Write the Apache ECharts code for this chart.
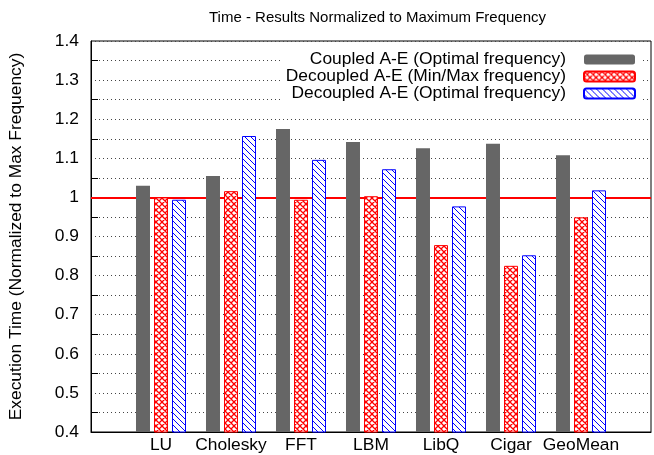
<!DOCTYPE html>
<html>
<head>
    <meta charset="utf-8">
    <title>Time - Results Normalized to Maximum Frequency</title>
    <script src="https://cdn.jsdelivr.net/npm/echarts@6/dist/echarts.min.js"></script>
    <style>
        html, body { margin: 0; padding: 0; background: #fff; }
        #chartContainer { width: 654px; height: 455px; }
    </style>
</head>
<body>
    <div id="chartContainer"></div>

    <script>
        // data
        const categories = ['LU', 'Cholesky', 'FFT', 'LBM', 'LibQ', 'Cigar', 'GeoMean'];
        const coupledOptimal = [1.030, 1.055, 1.175, 1.142, 1.126, 1.137, 1.108];
        const decoupledMinMax = [1.000, 1.016, 0.994, 1.003, 0.878, 0.825, 0.949];
        const decoupledOptimal = [0.994, 1.157, 1.096, 1.072, 0.977, 0.852, 1.018];
        const seriesNames = [
            'Coupled A-E (Optimal frequency)',
            'Decoupled A-E (Min/Max frequency)',
            'Decoupled A-E (Optimal frequency)'
        ];
        const referenceLevel = 1.0;

        const FONT = 'Liberation Sans, Arial, sans-serif';
        const FS = 17.4;

        // hatch fills like gnuplot patterns
        function makePattern(kind, color) {
            const c = document.createElement('canvas');
            c.width = 6; c.height = 6;
            const ctx = c.getContext('2d');
            ctx.fillStyle = '#fff';
            ctx.fillRect(0, 0, 6, 6);
            ctx.strokeStyle = color;
            ctx.lineWidth = kind === 'cross' ? 1.3 : 1;
            ctx.beginPath();
            // "\" direction
            ctx.moveTo(-1, -1); ctx.lineTo(7, 7);
            ctx.moveTo(-1, 5); ctx.lineTo(1, 7);
            ctx.moveTo(5, -1); ctx.lineTo(7, 1);
            if (kind === 'cross') {
                // "/" direction
                ctx.moveTo(-1, 7); ctx.lineTo(7, -1);
                ctx.moveTo(-1, 1); ctx.lineTo(1, -1);
                ctx.moveTo(5, 7); ctx.lineTo(7, 5);
            }
            ctx.stroke();
            return { image: c, repeat: 'repeat' };
        }

        const toPoints = arr => arr.map((v, i) => [i, v]);

        const chart = echarts.init(document.getElementById('chartContainer'));

        const barCommon = {
            type: 'bar',
            barWidth: 14,
            barGap: '28.6%',
            z: 2
        };

        const option = {
            animation: false,
            backgroundColor: '#fff',
            title: {
                text: 'Time - Results Normalized to Maximum Frequency',
                left: 204,
                top: 5,
                textStyle: { fontFamily: FONT, fontSize: 15, fontWeight: 'normal', color: '#000' }
            },
            legend: {
                data: seriesNames,
                orient: 'vertical',
                align: 'right',
                right: 14,
                top: 49,
                itemWidth: 51,
                itemHeight: 10,
                itemGap: 0,
                padding: [2, 4, 2, 4],
                backgroundColor: '#fff',
                textStyle: { fontFamily: FONT, fontSize: FS, color: '#000', padding: [0, 13, 0, 0] }
            },
            grid: {
                left: 91,
                right: -2,
                top: 41,
                bottom: 23,
                show: true,
                borderColor: '#000',
                borderWidth: 1
            },
            xAxis: {
                type: 'value',
                min: -1,
                max: 7,
                interval: 1,
                axisLine: { show: true, onZero: false, lineStyle: { color: '#000' } },
                axisTick: { show: false },
                splitLine: { show: false },
                axisLabel: {
                    margin: 5,
                    fontFamily: FONT,
                    fontSize: FS,
                    color: '#000',
                    formatter: v => categories[v] || ''
                }
            },
            yAxis: {
                type: 'value',
                min: 0.4,
                max: 1.4,
                interval: 0.1,
                name: 'Execution Time (Normalized to Max Frequency)',
                nameLocation: 'middle',
                nameGap: 66,
                nameTextStyle: { fontFamily: FONT, fontSize: FS, color: '#000' },
                axisLine: { show: true, onZero: false, lineStyle: { color: '#000' } },
                axisTick: { show: false },
                minorTick: { show: true, splitNumber: 2, length: -7, lineStyle: { color: '#000' } },
                axisLabel: {
                    margin: 12,
                    fontFamily: FONT,
                    fontSize: FS,
                    color: '#000',
                    formatter: v => String(Math.round(v * 10) / 10)
                },
                splitLine: { show: true, lineStyle: { color: '#444', type: [1, 3], width: 1 } },
                minorSplitLine: { show: true, lineStyle: { color: '#444', type: [1, 3], width: 1 } }
            },
            series: [
                Object.assign({}, barCommon, {
                    name: seriesNames[0],
                    data: toPoints(coupledOptimal),
                    itemStyle: { color: '#666666' },
                    markLine: {
                        silent: true,
                        z: 1,
                        symbol: 'none',
                        label: { show: false },
                        lineStyle: { color: '#ff0000', type: 'solid', width: 2 },
                        data: [{ yAxis: referenceLevel }]
                    }
                }),
                Object.assign({}, barCommon, {
                    name: seriesNames[1],
                    data: toPoints(decoupledMinMax),
                    itemStyle: { color: makePattern('cross', '#ff0000'), borderColor: '#ff0000', borderWidth: 1 }
                }),
                Object.assign({}, barCommon, {
                    name: seriesNames[2],
                    data: toPoints(decoupledOptimal),
                    itemStyle: { color: makePattern('diag', '#0000ff'), borderColor: '#0000ff', borderWidth: 1 }
                })
            ]
        };

        chart.setOption(option);
    </script>
</body>
</html>
